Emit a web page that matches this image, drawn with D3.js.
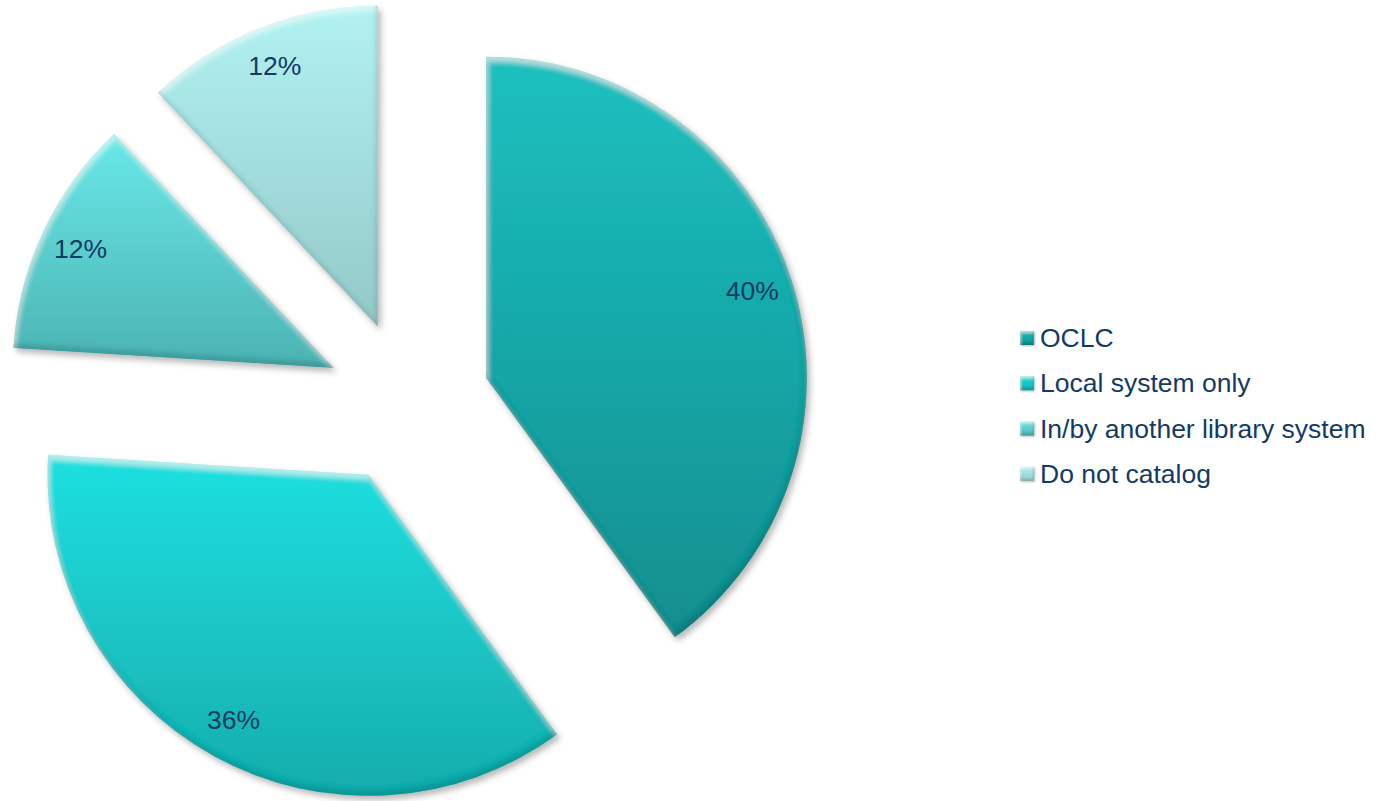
<!DOCTYPE html>
<html>
<head>
<meta charset="utf-8">
<script src="https://cdn.jsdelivr.net/npm/d3@7"></script>
<style>
  body { margin: 0; background: #fff; }
  text { font-family: "Liberation Sans", Arial, sans-serif; }
</style>
</head>
<body>
<div id="chart"></div>
<script>
(function () {

    // data
    var categories = ["OCLC", "Local system only", "In/by another library system", "Do not catalog"];
    var values = [40, 36, 12, 12];
    var labels = ["40%", "36%", "12%", "12%"];

    // palette (top / bottom of each slice gradient)
    var topColors = ["#1cc0c0", "#1fe0e0", "#68e8e8", "#b2f2f2"];
    var bottomColors = ["#138e8e", "#17acac", "#4cb2b2", "#93c8c8"];

    var width = 1383, height = 801;
    var cx = 408, cy = 403, radius = 321, explode = 82, labelR = 280;
    var textColor = "#133a66";

    var svg = d3.select("#chart")
        .append("svg")
        .attr("width", width)
        .attr("height", height);

    var defs = svg.append("defs");

    // gradients, one per slice
    categories.forEach(function (c, i) {
        var g = defs.append("linearGradient")
            .attr("id", "grad" + i)
            .attr("x1", 0).attr("y1", 0).attr("x2", 0).attr("y2", 1);
        g.append("stop").attr("offset", "0%").attr("stop-color", topColors[i]);
        g.append("stop").attr("offset", "100%").attr("stop-color", bottomColors[i]);
    });

    // bevel look: light band on top edges, dark band on bottom edges, soft shadow
    function bevel(id, blur, off, sh) {
        var f = defs.append("filter").attr("id", id)
            .attr("x", "-10%").attr("y", "-10%").attr("width", "125%").attr("height", "125%");
        f.append("feGaussianBlur").attr("in", "SourceAlpha").attr("stdDeviation", blur).attr("result", "blur");
        f.append("feOffset").attr("in", "blur").attr("dx", off * 0.3).attr("dy", off).attr("result", "down");
        f.append("feComposite").attr("in", "SourceAlpha").attr("in2", "down").attr("operator", "out").attr("result", "topBand");
        f.append("feFlood").attr("flood-color", "#ffffff").attr("flood-opacity", 0.45).attr("result", "white");
        f.append("feComposite").attr("in", "white").attr("in2", "topBand").attr("operator", "in").attr("result", "hi");
        f.append("feOffset").attr("in", "blur").attr("dx", -off * 0.4).attr("dy", -off).attr("result", "up");
        f.append("feComposite").attr("in", "SourceAlpha").attr("in2", "up").attr("operator", "out").attr("result", "botBand");
        f.append("feFlood").attr("flood-color", "#003030").attr("flood-opacity", 0.3).attr("result", "dark");
        f.append("feComposite").attr("in", "dark").attr("in2", "botBand").attr("operator", "in").attr("result", "lo");
        f.append("feGaussianBlur").attr("in", "SourceAlpha").attr("stdDeviation", sh).attr("result", "sblur");
        f.append("feOffset").attr("in", "sblur").attr("dx", sh).attr("dy", sh * 1.3).attr("result", "soff");
        f.append("feFlood").attr("flood-color", "#000").attr("flood-opacity", 0.28).attr("result", "sc");
        f.append("feComposite").attr("in", "sc").attr("in2", "soff").attr("operator", "in").attr("result", "shadow");
        var merge = f.append("feMerge");
        merge.append("feMergeNode").attr("in", "shadow");
        merge.append("feMergeNode").attr("in", "SourceGraphic");
        merge.append("feMergeNode").attr("in", "hi");
        merge.append("feMergeNode").attr("in", "lo");
    }
    bevel("bevel", 2.5, 5, 3);
    bevel("bevelSmall", 1, 2, 1);

    var pie = d3.pie().sort(null).value(function (d) { return d; });
    var arc = d3.arc().innerRadius(0).outerRadius(radius);
    var arcs = pie(values);

    function offset(d, dist) {
        var mid = (d.startAngle + d.endAngle) / 2;
        return [Math.sin(mid) * dist, -Math.cos(mid) * dist];
    }

    var g = svg.append("g").attr("transform", "translate(" + cx + "," + cy + ")");

    var slice = g.selectAll(".slice")
        .data(arcs)
        .enter()
        .append("g")
        .attr("class", "slice")
        .attr("transform", function (d) {
            var o = offset(d, explode);
            return "translate(" + o[0] + "," + o[1] + ")";
        });

    slice.append("path")
        .attr("d", arc)
        .attr("fill", function (d, i) { return "url(#grad" + i + ")"; })
        .attr("filter", "url(#bevel)");

    slice.append("text")
        .attr("x", function (d) { return offset(d, labelR)[0]; })
        .attr("y", function (d) { return offset(d, labelR)[1]; })
        .attr("text-anchor", "middle")
        .attr("dominant-baseline", "central")
        .style("font-size", "26.5px")
        .style("fill", textColor)
        .text(function (d, i) { return labels[i]; });

    // legend
    var legend = svg.append("g").attr("transform", "translate(1020,338)");
    var item = legend.selectAll(".item")
        .data(categories)
        .enter()
        .append("g")
        .attr("transform", function (d, i) { return "translate(0," + (i * 45.3) + ")"; });

    item.append("rect")
        .attr("x", 0).attr("y", -7)
        .attr("width", 14).attr("height", 14)
        .attr("fill", function (d, i) { return "url(#grad" + i + ")"; })
        .attr("filter", "url(#bevelSmall)");

    item.append("text")
        .attr("x", 20)
        .attr("y", 0)
        .attr("dominant-baseline", "central")
        .style("font-size", "26.5px")
        .style("fill", textColor)
        .text(function (d) { return d; });

})();
</script>
</body>
</html>
